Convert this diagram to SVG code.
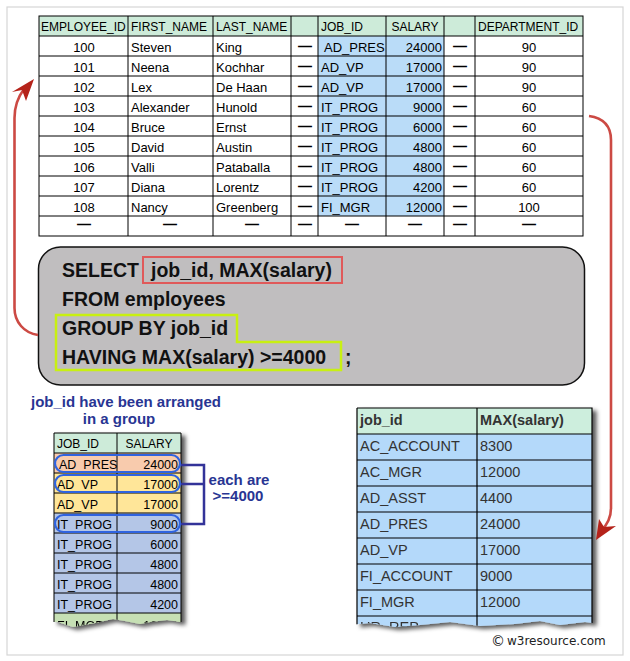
<svg xmlns="http://www.w3.org/2000/svg" width="630" height="661" viewBox="0 0 630 661">
<defs>
<style>
.xl{font-family:"Liberation Sans",Arial,sans-serif;font-size:13px;fill:#000}
.xs{font-family:"Liberation Sans",Arial,sans-serif;font-size:12.5px;fill:#000}
.xh{font-family:"Liberation Sans",Arial,sans-serif;font-size:12px;fill:#000}
.grid{stroke:#000;stroke-width:1;fill:none}
.dash{font-family:"Liberation Sans",Arial,sans-serif;font-size:14px;font-weight:bold;fill:#000;text-anchor:middle}
.sql{font-family:"Liberation Sans",Arial,sans-serif;font-size:19.5px;font-weight:bold;fill:#111}
.note{font-family:"Liberation Sans",Arial,sans-serif;font-size:15px;font-weight:bold;fill:#283593}
.res{font-family:"Liberation Sans",Arial,sans-serif;font-size:14.5px;fill:#333}
.resb{font-family:"Liberation Sans",Arial,sans-serif;font-size:14.5px;font-weight:bold;fill:#333}
.oval{fill:none;stroke:#2f63e0;stroke-width:2.2}
.arrow{fill:none;stroke:#cc4a44;stroke-width:2.6}
.head{fill:#b5231a}
.r{text-anchor:end}
.c{text-anchor:middle}
</style>
<filter id="sh" x="-10%" y="-10%" width="125%" height="125%">
<feDropShadow dx="4" dy="3" stdDeviation="2" flood-color="#000" flood-opacity="0.65"/>
</filter>
<clipPath id="torn1">
<path d="M50,428 L190,428 L190,622 L180,622 L167,620 L150,622 L140,624 L125,621 L113,619 L95,623 L73,627 L58,622 L50,622 Z"/>
</clipPath>
<clipPath id="torn2">
<path d="M350,400 L600,400 L600,624 L585,622 L560,625 L540,621 L515,624 L480,626 L450,622 L420,625 L395,627 L370,623 L350,625 Z"/>
</clipPath>
</defs>

<rect x="7" y="7" width="616" height="648" fill="#fff" stroke="#d6d6d6" stroke-width="1.2"/>

<g id="employees-table">
<rect x="39" y="16" width="544" height="20" fill="#cdebd9"/>
<rect x="318" y="36" width="126" height="180" fill="#badcf8"/>
<g class="grid">
<rect x="39" y="16" width="544" height="220"/>
<path d="M39,36H583M39,56H583M39,76H583M39,96H583M39,116H583M39,136H583M39,156H583M39,176H583M39,196H583M39,216H583"/>
<path d="M128,16V236M213,16V236M291,16V236M318,16V236M386,16V236M444,16V236M475,16V236"/>
</g>
<g class="xh">
<text x="41" y="31">EMPLOYEE_ID</text>
<text x="131" y="31">FIRST_NAME</text>
<text x="216" y="31">LAST_NAME</text>
<text x="321" y="31">JOB_ID</text>
<text x="415" y="31" class="c">SALARY</text>
<text x="478" y="31">DEPARTMENT_ID</text>
</g>
<g class="xl">
<text x="84" y="52" class="c">100</text><text x="131" y="52">Steven</text><text x="216" y="52">King</text><text x="324" y="52">AD_PRES</text><text x="442" y="52" class="r">24000</text><text x="529" y="52" class="c">90</text>
<text x="84" y="72" class="c">101</text><text x="131" y="72">Neena</text><text x="216" y="72">Kochhar</text><text x="321" y="72">AD_VP</text><text x="442" y="72" class="r">17000</text><text x="529" y="72" class="c">90</text>
<text x="84" y="92" class="c">102</text><text x="131" y="92">Lex</text><text x="216" y="92">De Haan</text><text x="321" y="92">AD_VP</text><text x="442" y="92" class="r">17000</text><text x="529" y="92" class="c">90</text>
<text x="84" y="112" class="c">103</text><text x="131" y="112">Alexander</text><text x="216" y="112">Hunold</text><text x="321" y="112">IT_PROG</text><text x="442" y="112" class="r">9000</text><text x="529" y="112" class="c">60</text>
<text x="84" y="132" class="c">104</text><text x="131" y="132">Bruce</text><text x="216" y="132">Ernst</text><text x="321" y="132">IT_PROG</text><text x="442" y="132" class="r">6000</text><text x="529" y="132" class="c">60</text>
<text x="84" y="152" class="c">105</text><text x="131" y="152">David</text><text x="216" y="152">Austin</text><text x="321" y="152">IT_PROG</text><text x="442" y="152" class="r">4800</text><text x="529" y="152" class="c">60</text>
<text x="84" y="172" class="c">106</text><text x="131" y="172">Valli</text><text x="216" y="172">Pataballa</text><text x="321" y="172">IT_PROG</text><text x="442" y="172" class="r">4800</text><text x="529" y="172" class="c">60</text>
<text x="84" y="192" class="c">107</text><text x="131" y="192">Diana</text><text x="216" y="192">Lorentz</text><text x="321" y="192">IT_PROG</text><text x="442" y="192" class="r">4200</text><text x="529" y="192" class="c">60</text>
<text x="84" y="212" class="c">108</text><text x="131" y="212">Nancy</text><text x="216" y="212">Greenberg</text><text x="321" y="212">FI_MGR</text><text x="442" y="212" class="r">12000</text><text x="529" y="212" class="c">100</text>
</g>
<g class="dash">
<text x="305" y="51">—</text><text x="305" y="71">—</text><text x="305" y="91">—</text><text x="305" y="111">—</text><text x="305" y="131">—</text><text x="305" y="151">—</text><text x="305" y="171">—</text><text x="305" y="191">—</text><text x="305" y="211">—</text>
<text x="460" y="51">—</text><text x="460" y="71">—</text><text x="460" y="91">—</text><text x="460" y="111">—</text><text x="460" y="131">—</text><text x="460" y="151">—</text><text x="460" y="171">—</text><text x="460" y="191">—</text><text x="460" y="211">—</text>
<text x="84" y="229">—</text><text x="170" y="229">—</text><text x="252" y="229">—</text><text x="305" y="229">—</text><text x="352" y="229">—</text><text x="415" y="229">—</text><text x="460" y="229">—</text><text x="529" y="229">—</text>
</g>
</g>

<g id="sql-box">
<rect x="38.5" y="247" width="546" height="138" rx="22" fill="#c0bebf" stroke="#111" stroke-width="1.5"/>
<rect x="143" y="257" width="199" height="26" fill="none" stroke="#e05a5a" stroke-width="2"/>
<path d="M56,315H237V342H341V370H56Z" fill="none" stroke="#c8f012" stroke-width="2.5"/>
<text x="62" y="277" class="sql">SELECT</text>
<text x="151" y="277" class="sql">job_id, MAX(salary)</text>
<text x="62" y="306" class="sql">FROM employees</text>
<text x="62" y="335" class="sql">GROUP BY job_id</text>
<text x="62" y="364" class="sql">HAVING MAX(salary) &gt;=4000</text>
<text x="345" y="364" class="sql">;</text>
</g>

<g id="grouped-table">
<text x="126" y="407" class="note c">job_id have been arranged</text>
<text x="119" y="424" class="note c">in a group</text>
<g filter="url(#sh)">
<g clip-path="url(#torn1)">
<rect x="54" y="433" width="127" height="20" fill="#cdebd9"/>
<rect x="54" y="453" width="127" height="20" fill="#f8cbad"/>
<rect x="54" y="473" width="127" height="40" fill="#ffe699"/>
<rect x="54" y="513" width="127" height="100" fill="#b4c6e7"/>
<rect x="54" y="613" width="127" height="20" fill="#c6e0b4"/>
<path d="M54,453H181M54,473H181M54,493H181M54,513H181M54,533H181M54,553H181M54,573H181M54,593H181M54,613H181M117,433V640" stroke="#000" stroke-width="1"/>
<path d="M54,433V640M181,433V640M54,433H181" stroke="#000" stroke-width="1"/>
<g class="xs">
<text x="57" y="630">FI_MGR</text><text x="178" y="630" class="r">12000</text>
</g>
</g>
</g>
<g class="xh">
<text x="57" y="448">JOB_ID</text><text x="149" y="448" class="c">SALARY</text>
</g>
<g class="xs">
<text x="59" y="469">AD_PRES</text><text x="178" y="469" class="r">24000</text>
<text x="57" y="489">AD_VP</text><text x="178" y="489" class="r">17000</text>
<text x="57" y="509">AD_VP</text><text x="178" y="509" class="r">17000</text>
<text x="57" y="529">IT_PROG</text><text x="178" y="529" class="r">9000</text>
<text x="57" y="549">IT_PROG</text><text x="178" y="549" class="r">6000</text>
<text x="57" y="569">IT_PROG</text><text x="178" y="569" class="r">4800</text>
<text x="57" y="589">IT_PROG</text><text x="178" y="589" class="r">4800</text>
<text x="57" y="609">IT_PROG</text><text x="178" y="609" class="r">4200</text>
</g>
<rect x="55" y="455" width="125" height="17" rx="8.5" class="oval"/>
<rect x="55" y="475" width="125" height="17" rx="8.5" class="oval"/>
<rect x="55" y="515" width="125" height="17" rx="8.5" class="oval"/>
<path d="M181,465H204V524H181M181,484H204" fill="none" stroke="#333399" stroke-width="2.5"/>
<text x="239" y="485" class="note c">each are</text>
<text x="238" y="501" class="note c">&gt;=4000</text>
</g>

<g id="result-table">
<g filter="url(#sh)">
<g clip-path="url(#torn2)">
<rect x="357" y="408" width="235" height="26" fill="#cdeedd"/>
<rect x="357" y="434" width="235" height="200" fill="#b4d9fa"/>
<path d="M357,408H592V640M357,408V640M477,408V640M357,434H592M357,460H592M357,486H592M357,512H592M357,538H592M357,564H592M357,590H592M357,616H592" fill="none" stroke="#000" stroke-width="1.2"/>
<text x="360" y="632" class="res">HR_REP</text>
</g>
</g>
<text x="360" y="425" class="resb">job_id</text><text x="480" y="425" class="resb">MAX(salary)</text>
<g class="res">
<text x="360" y="451">AC_ACCOUNT</text><text x="480" y="451">8300</text>
<text x="360" y="477">AC_MGR</text><text x="480" y="477">12000</text>
<text x="360" y="503">AD_ASST</text><text x="480" y="503">4400</text>
<text x="360" y="529">AD_PRES</text><text x="480" y="529">24000</text>
<text x="360" y="555">AD_VP</text><text x="480" y="555">17000</text>
<text x="360" y="581">FI_ACCOUNT</text><text x="480" y="581">9000</text>
<text x="360" y="607">FI_MGR</text><text x="480" y="607">12000</text>
</g>
</g>

<g id="connectors">
<path class="arrow" d="M38,335C24,333 14.5,322 14.5,308V118C14.5,106 18,97 24,89"/>
<polygon class="head" points="34,79 12,92 22,90 26,101"/>
<path class="arrow" d="M589,116C603,118 611,126 611,140V508C611,518 607,525 601,531"/>
<polygon class="head" points="596,540 599,519 604,527 616,526"/>
</g>

<g id="copyright">
<text x="491" y="646" style="font-family:'DejaVu Sans',Verdana,sans-serif;font-size:14px;fill:#222">©</text>
<text x="507" y="645" style="font-family:'DejaVu Sans',Verdana,sans-serif;font-size:12px;fill:#222">w3resource.com</text>
</g>
</svg>
